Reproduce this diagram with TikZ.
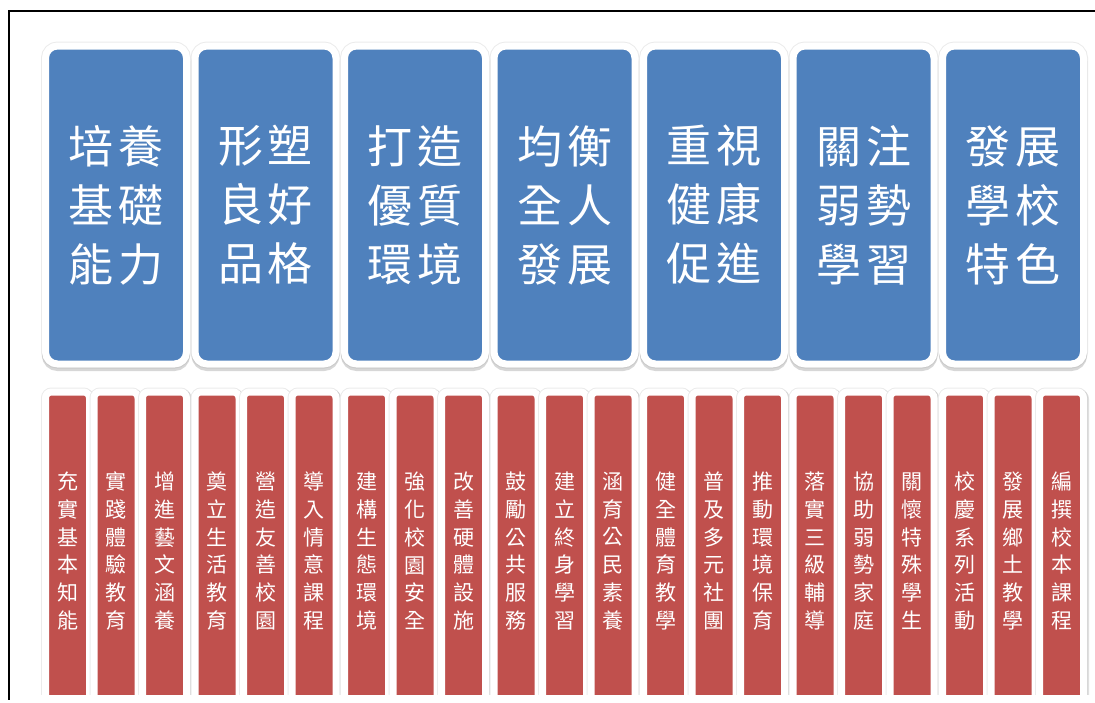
\documentclass[tikz,border=0pt]{standalone}
\usepackage{fontspec}
\usepackage{xcolor}
\usetikzlibrary{shadows}
\newfontfamily\cjk{Noto Sans CJK TC}
\definecolor{goalblue}{HTML}{4F81BD}
\definecolor{itemred}{HTML}{C0504D}

\tikzset{
    goal/.style={draw=white, line width=7pt, fill=goalblue, rounded corners=12pt,
        minimum width=141pt, minimum height=318pt, inner sep=0pt, text=white,
        align=center, font=\cjk\fontsize{45}{59}\selectfont,
        preaction={draw=black!8, line width=9pt},
        drop shadow={shadow xshift=0pt, shadow yshift=-3.5pt, opacity=0.35,
            fill=black!45, draw=black!45, line width=7pt}},
    item/.style={draw=white, line width=7pt, fill=itemred, rounded corners=6pt,
        minimum width=44pt, minimum height=318pt, inner sep=0pt, text=white,
        align=center, font=\cjk\fontsize{21}{27.7}\selectfont,
        preaction={draw=black!8, line width=9pt},
        drop shadow={shadow xshift=2pt, shadow yshift=-1pt, opacity=0.25,
            fill=black!45, draw=black!45, line width=7pt}}
}

\begin{document}
\begin{tikzpicture}[x=1pt,y=-1pt]

        % Page size
        \useasboundingbox (0,0) rectangle (1095,702);

        % Draw frame
        \coordinate (frametop) at (1095,11);
        \coordinate (framecorner) at (9,11);
        \coordinate (framebottom) at (9,700);
        \draw[line width=2pt] (frametop) -- (framecorner) -- (framebottom);

        % Draw goal boxes
        \foreach \txt [count=\i from 0] in {
            {培\kern5pt養\\基\kern5pt礎\\能\kern5pt力}, {形\kern5pt塑\\良\kern5pt好\\品\kern5pt格},
            {打\kern5pt造\\優\kern5pt質\\環\kern5pt境}, {均\kern5pt衡\\全\kern5pt人\\發\kern5pt展},
            {重\kern5pt視\\健\kern5pt康\\促\kern5pt進}, {關\kern5pt注\\弱\kern5pt勢\\學\kern5pt習},
            {發\kern5pt展\\學\kern5pt校\\特\kern5pt色}} {
            \node[goal] (goal\i) at (116+149.5*\i,205) {\txt};
        }

        % Draw items under the goals
        \begin{scope}
            \clip (0,0) rectangle (1095,694);
            \foreach \txt [count=\i from 0] in {
                {充\\實\\基\\本\\知\\能}, {實\\踐\\體\\驗\\教\\育}, {增\\進\\藝\\文\\涵\\養},
                {奠\\立\\生\\活\\教\\育}, {營\\造\\友\\善\\校\\園}, {導\\入\\情\\意\\課\\程},
                {建\\構\\生\\態\\環\\境}, {強\\化\\校\\園\\安\\全}, {改\\善\\硬\\體\\設\\施},
                {鼓\\勵\\公\\共\\服\\務}, {建\\立\\終\\身\\學\\習}, {涵\\育\\公\\民\\素\\養},
                {健\\全\\體\\育\\教\\學}, {普\\及\\多\\元\\社\\團}, {推\\動\\環\\境\\保\\育},
                {落\\實\\三\\級\\輔\\導}, {協\\助\\弱\\勢\\家\\庭}, {關\\懷\\特\\殊\\學\\生},
                {校\\慶\\系\\列\\活\\動}, {發\\展\\鄉\\土\\教\\學}, {編\\撰\\校\\本\\課\\程}} {
                \pgfmathsetmacro{\x}{67.5+149.5*int(\i/3)+48.5*mod(\i,3)}
                \node[item] (item\i) at (\x,551) {\txt};
            }
        \end{scope}

    \end{tikzpicture}
\end{document}
